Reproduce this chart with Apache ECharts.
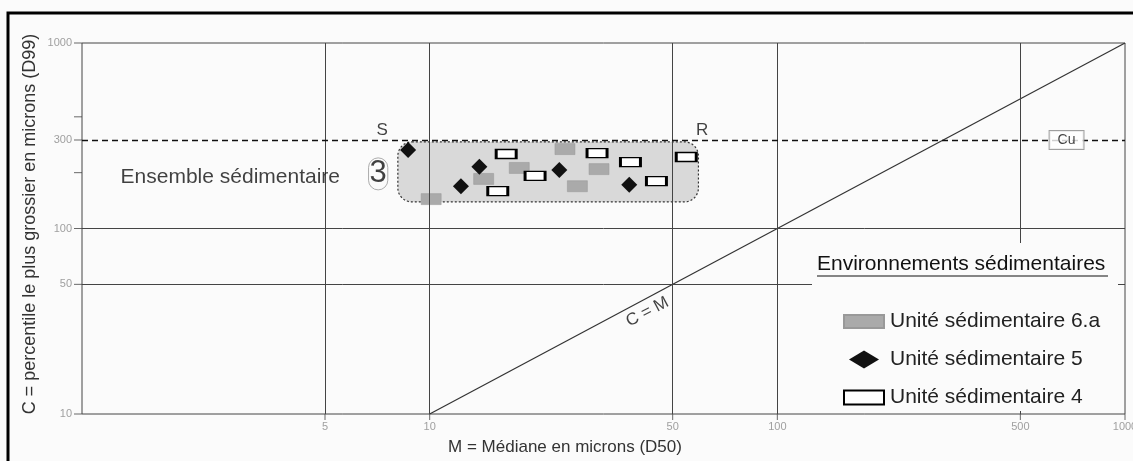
<!DOCTYPE html>
<html>
<head>
<meta charset="utf-8">
<title>Diagramme CM</title>
<script src="https://cdn.jsdelivr.net/npm/echarts@6/dist/echarts.min.js"></script>
<style>
  html, body { margin: 0; padding: 0; background: #fbfbfb; }
  #chart { width: 1133px; height: 461px; }
</style>
</head>
<body>
<div id="chart"></div>
<script>
// points: [M (D50), C (D99)] in microns
var unit6a = [[24.5, 268], [18.1, 212], [14.3, 185], [30.7, 209], [26.6, 169], [10.1, 144]];
var unit5 = [[8.67, 265], [13.9, 215], [12.3, 169], [23.6, 207], [37.5, 172]];
var unit4 = [[16.6, 252], [20.1, 192], [15.7, 159], [30.3, 255], [37.8, 228], [44.9, 180], [54.7, 243]];
// envelope of ensemble 3: [M min, C min, M max, C max]
var ensemble3 = [[8.1, 139, 59.3, 293]];
var cmLine = [[10, 10], [1000, 1000]];
var cuLevel = 300;

var xGrid = [5, 10, 50, 100, 500];
var yGrid = [50, 100];
var xTickLabels = [5, 10, 50, 100, 500, 1000];
var yTickLabels = [10, 50, 100, 300, 1000];
var yMinorTicks = [200, 400];

// text notes: [text, M, C]
var notes = [
  ['S', 7.3, 300],
  ['R', 60.8, 300],
  ['Cu', 679, 300],
  ['Ensemble sédimentaire', 2.67, 190],
  ['3', 7.11, 197],
  ['C = M', 42.3, 35.5]
];

var FONT = "'Liberation Sans', Arial, sans-serif";

var noteStyle = {
  'S': { position: 'top', distance: 1, fontSize: 17 },
  'R': { position: 'top', distance: 1, fontSize: 17 },
  'Cu': { position: 'inside', fontSize: 14, backgroundColor: '#fff', borderColor: '#888',
          borderWidth: 1, padding: [2, 8, 2, 8] },
  'Ensemble sédimentaire': { position: 'inside', fontSize: 21 },
  '3': { position: 'inside', fontSize: 31, borderColor: '#999', borderWidth: 1,
         borderRadius: 11, padding: [1, 1, 0, 1] },
  'C = M': { position: 'inside', fontSize: 17, rotate: 28 }
};

var chart = echarts.init(document.getElementById('chart'));

var option = {
  backgroundColor: '#fbfbfb',
  animation: false,
  grid: {
    left: 82, right: 8, top: 43, bottom: 47,
    show: true, borderColor: '#444', borderWidth: 1, backgroundColor: 'transparent'
  },
  xAxis: {
    type: 'log', logBase: 10, min: 1, max: 1000,
    axisLine: { show: false }, axisTick: { show: false },
    axisLabel: { show: false }, splitLine: { show: false }
  },
  yAxis: {
    type: 'log', logBase: 10, min: 10, max: 1000,
    axisLine: { show: false }, axisTick: { show: false },
    axisLabel: { show: false }, splitLine: { show: false }
  },
  legend: {
    orient: 'vertical', left: 838, top: 306, z: 12,
    itemWidth: 40, itemHeight: 18, itemGap: 17,
    selectedMode: false,
    textStyle: { fontSize: 21, fontFamily: FONT, color: '#222', lineHeight: 20, padding: [0, 0, 0, 1] },
    data: [
      { name: 'Unité sédimentaire 6.a', icon: 'path://M0,0H40V13H0Z' },
      { name: 'Unité sédimentaire 5', icon: 'path://M15,0L30,9L15,18L0,9Z' },
      { name: 'Unité sédimentaire 4', icon: 'path://M0,0H34V12H0Z' }
    ]
  },
  graphic: [
    { type: 'rect', z: 20, silent: true,
      shape: { x: 8, y: 13, width: 1140, height: 470 },
      style: { fill: 'none', stroke: '#000', lineWidth: 3 } },
    { type: 'rect', z: 8, silent: true,
      shape: { x: 812, y: 243, width: 306, height: 168 },
      style: { fill: '#fbfbfb' } },
    { type: 'text', z: 12, x: 817, y: 264,
      style: { text: 'Environnements sédimentaires', fontSize: 21, fontFamily: FONT,
               fill: '#111', align: 'left', verticalAlign: 'middle' } },
    { type: 'line', z: 12,
      shape: { x1: 817, y1: 276, x2: 1108, y2: 276 },
      style: { stroke: '#111', lineWidth: 1.2 } },
    { type: 'text', x: 30, y: 224, rotation: Math.PI / 2,
      style: { text: 'C = percentile le plus grossier en microns (D99)', fontSize: 18,
               fontFamily: FONT, fill: '#333', align: 'center', verticalAlign: 'middle' } },
    { type: 'text', x: 565, y: 447,
      style: { text: 'M = Médiane en microns (D50)', fontSize: 17,
               fontFamily: FONT, fill: '#333', align: 'center', verticalAlign: 'middle' } }
  ],
  series: [
    {
      name: 'grille', type: 'line', data: [], silent: true,
      markLine: {
        symbol: ['none', 'none'], silent: true, label: { show: false },
        lineStyle: { color: '#444', width: 1, type: 'solid' },
        data: xGrid.map(function (v) { return { xAxis: v }; })
          .concat(yGrid.map(function (v) { return { yAxis: v }; }))
      }
    },
    {
      name: 'Cu', type: 'line', data: [], silent: true,
      markLine: {
        symbol: ['none', 'none'], silent: true, label: { show: false },
        lineStyle: { color: '#111', width: 1.3, type: [6, 4] },
        data: [{ yAxis: cuLevel }]
      }
    },
    {
      name: 'C = M', type: 'line', data: cmLine, symbol: 'none', silent: true,
      lineStyle: { color: '#333', width: 1.2 }
    },
    {
      name: 'Ensemble 3', type: 'custom', silent: true, z: 2,
      data: ensemble3,
      encode: { x: [0, 2], y: [1, 3] },
      renderItem: function (params, api) {
        var a = api.coord([api.value(0), api.value(3)]);
        var b = api.coord([api.value(2), api.value(1)]);
        return {
          type: 'rect',
          shape: { x: a[0], y: a[1], width: b[0] - a[0], height: b[1] - a[1], r: 14 },
          style: { fill: '#d9d9d9', stroke: '#333', lineWidth: 1.2, lineDash: [2, 2] }
        };
      }
    },
    {
      name: 'Unité sédimentaire 6.a', type: 'scatter', data: unit6a, z: 3,
      symbol: 'rect', symbolSize: [20, 11], symbolKeepAspect: true,
      itemStyle: { color: '#aaaaaa', borderColor: '#999', borderWidth: 0.5, opacity: 1 }
    },
    {
      name: 'Unité sédimentaire 5', type: 'scatter', data: unit5, z: 4,
      symbol: 'diamond', symbolSize: [16, 16], symbolKeepAspect: true,
      itemStyle: { color: '#111', opacity: 1 }
    },
    {
      name: 'Unité sédimentaire 4', type: 'scatter', data: unit4, z: 3,
      symbol: 'rect', symbolSize: [20, 9], symbolKeepAspect: true,
      itemStyle: { color: '#fff', borderColor: '#000', borderWidth: 2, opacity: 1 }
    },
    {
      name: 'ticksY', type: 'scatter', silent: true, clip: false, z: 1,
      symbol: 'rect', symbolSize: [8, 1], symbolOffset: [-4, 0],
      itemStyle: { color: '#444' },
      label: { show: true, position: 'left', distance: 2, formatter: '{b}',
               fontSize: 11, color: '#888', fontFamily: FONT },
      data: yTickLabels.map(function (v) { return { name: String(v), value: [1, v] }; })
        .concat(yMinorTicks.map(function (v) {
          return { name: '', value: [1, v], label: { show: false } };
        }))
    },
    {
      name: 'ticksX', type: 'scatter', silent: true, clip: false, z: 1,
      symbol: 'rect', symbolSize: [1, 6], symbolOffset: [0, 3],
      itemStyle: { color: '#444' },
      label: { show: true, position: 'bottom', distance: 1, formatter: '{b}',
               fontSize: 11, color: '#888', fontFamily: FONT },
      data: xTickLabels.map(function (v) { return { name: String(v), value: [v, 10] }; })
    },
    {
      name: 'notes', type: 'scatter', silent: true, clip: false, z: 6,
      symbolSize: 1, itemStyle: { color: 'transparent' },
      label: { show: true, formatter: '{b}', color: '#111', fontFamily: FONT },
      data: notes.map(function (n) {
        return { name: n[0], value: [n[1], n[2]], label: noteStyle[n[0]] };
      })
    }
  ]
};

chart.setOption(option);
</script>
</body>
</html>
